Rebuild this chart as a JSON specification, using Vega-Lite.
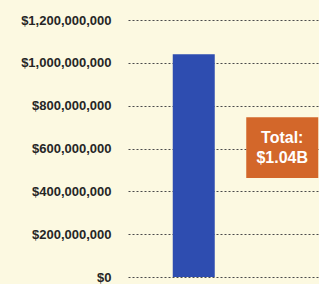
{
  "$schema": "https://vega.github.io/schema/vega-lite/v6.json",
  "width": 191,
  "height": 257,
  "autosize": "none",
  "padding": {"left": 128, "top": 20, "right": 0, "bottom": 7},
  "background": "#FCF9E1",
  "config": {"view": {"stroke": null}, "font": "Liberation Sans"},
  "data": {"values": [
    {"category": "Total", "amount": 1040000000, "note": "Total:\n$1.04B"}
  ]},
  "encoding": {
    "x": {"field": "category", "type": "nominal", "scale": {"type": "band", "domain": ["Total", "note"], "paddingInner": 0, "paddingOuter": 0}, "axis": null}
  },
  "layer": [
    {
      "mark": {"type": "bar", "color": "#2E4DB0", "width": 42, "xOffset": 18},
      "encoding": {
        "y": {"field": "amount", "type": "quantitative", "scale": {"domain": [0, 1200000000], "nice": false},
          "axis": {"values": [0, 200000000, 400000000, 600000000, 800000000, 1000000000, 1200000000], "format": "$,d", "title": null, "domain": false, "ticks": false, "labelPadding": 17, "labelFont": "Liberation Sans", "labelFontWeight": "bold", "labelFontSize": 13, "labelColor": "#262626", "grid": true, "gridColor": "#4a4a4a", "gridDash": [2, 2], "gridWidth": 1, "zindex": 0}}
      }
    },
    {
      "mark": {"type": "bar", "color": "#D3672A", "width": 72, "xOffset": 11},
      "encoding": {
        "x": {"datum": "note"},
        "y": {"datum": 746000000},
        "y2": {"datum": 462000000}
      }
    },
    {
      "mark": {"type": "text", "color": "white", "fontWeight": "bold", "fontSize": 16, "font": "Liberation Sans", "lineBreak": "\n", "lineHeight": 20, "align": "center", "baseline": "middle", "xOffset": 11, "dy": -11},
      "encoding": {
        "x": {"datum": "note"},
        "y": {"datum": 600000000},
        "text": {"field": "note"}
      }
    }
  ]
}
